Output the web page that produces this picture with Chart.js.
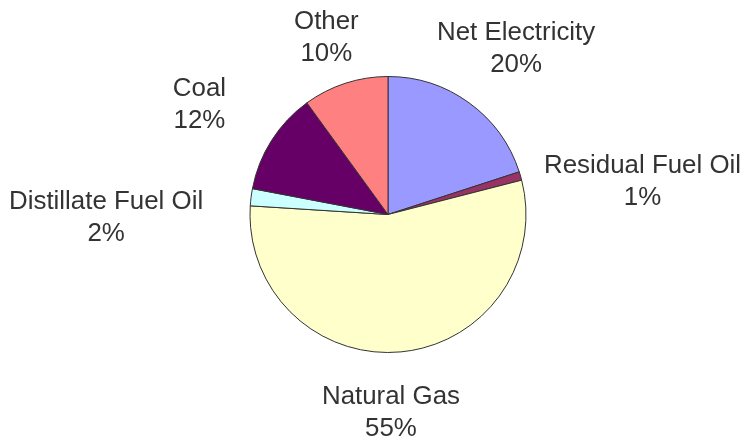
<!DOCTYPE html>
<html>
<head>
<meta charset="utf-8">
<title>Energy use by source</title>
<script src="https://cdn.jsdelivr.net/npm/chart.js@4/dist/chart.umd.min.js"></script>
<style>
    html, body { margin: 0; padding: 0; background: #ffffff; }
    #wrap { width: 745px; height: 439px; }
</style>
</head>
<body>
<div id="wrap"><canvas id="pieChart" width="745" height="439"></canvas></div>
<script>
// ==========================================
// 1. DATA
// ==========================================
const categories = ['Net Electricity', 'Residual Fuel Oil', 'Natural Gas', 'Distillate Fuel Oil', 'Coal', 'Other'];
const shares = [20, 1, 55, 2, 12, 10];
const sliceColors = ['#9999ff', '#993366', '#ffffcc', '#ccffff', '#660066', '#ff8080'];

// where each label block sits, relative to the outer middle of its slice (px)
const labelNudge = [[47, -54], [122, 6], [-10, 61], [-145, 21], [-72, -35], [-19, -45]];

// ==========================================
// 2. LABELS (category + percent, outside the pie)
// ==========================================
const corTexto = '#333333';

const outsideLabels = {
    id: 'outsideLabels',
    afterDraw(chart) {
        const ctx = chart.ctx;
        const arcs = chart.getDatasetMeta(0).data;
        ctx.save();
        ctx.fillStyle = corTexto;
        ctx.font = '25px "Liberation Sans", Arial, sans-serif';
        ctx.textAlign = 'center';
        ctx.textBaseline = 'middle';

        arcs.forEach((arc, i) => {
            const p = arc.getProps(['x', 'y', 'startAngle', 'endAngle', 'outerRadius'], true);
            const mid = (p.startAngle + p.endAngle) / 2;
            const cx = p.x + Math.cos(mid) * p.outerRadius + labelNudge[i][0];
            const cy = p.y + Math.sin(mid) * p.outerRadius + labelNudge[i][1];

            const linhas = [categories[i], shares[i] + '%'];
            linhas.forEach((txt, k) => {
                ctx.save();
                ctx.translate(cx, cy + (k === 0 ? -16 : 16));
                ctx.scale(1.035, 1); // text in the picture is slightly wide
                ctx.fillText(txt, 0, 0);
                ctx.restore();
            });
        });
        ctx.restore();
    }
};

// ==========================================
// 3. PIE (Chart.js)
// ==========================================
const ctxPizza = document.getElementById('pieChart').getContext('2d');

const graficoPizza = new Chart(ctxPizza, {
    type: 'pie',
    data: {
        labels: categories,
        datasets: [{
            data: shares,
            backgroundColor: sliceColors,
            borderColor: '#333333',
            borderWidth: 1,
            hoverOffset: 0
        }]
    },
    options: {
        responsive: false,
        animation: false,
        devicePixelRatio: 1,
        layout: { padding: { top: 76, bottom: 86, left: 230, right: 199 } },
        plugins: {
            legend: { display: false },
            tooltip: { enabled: false }
        }
    },
    plugins: [outsideLabels]
});
</script>
</body>
</html>
